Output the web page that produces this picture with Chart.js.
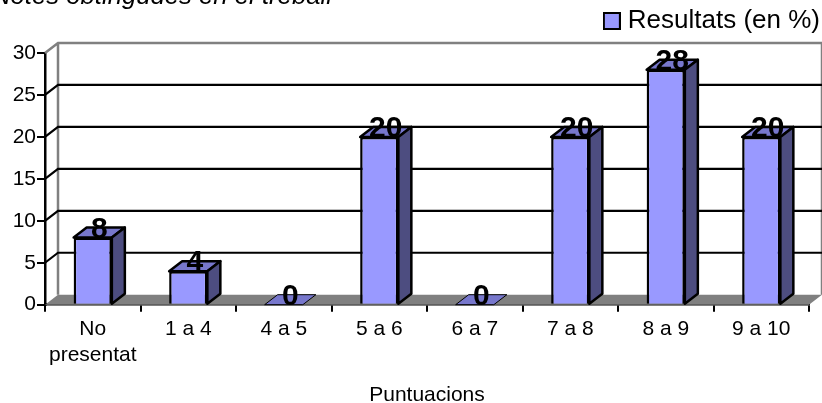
<!DOCTYPE html>
<html><head><meta charset="utf-8">
<style>html,body{margin:0;padding:0;background:#fff;overflow:hidden}canvas{display:block}</style>
<script src="https://cdn.jsdelivr.net/npm/chart.js@4"></script></head>
<body><canvas id="c" width="822" height="403"></canvas>
<script>
const categories = [['No','presentat'],'1 a 4','4 a 5','5 a 6','6 a 7','7 a 8','8 a 9','9 a 10'];
const results = [8,4,0,20,0,20,28,20];
const yTicks = [0,5,10,15,20,25,30];
const seriesName = 'Resultats (en %)';
const chartTitle = 'Notes obtingudes en el treball';
const xTitle = 'Puntuacions';
const DX = 13, DY = 10;
const FONT = '"Liberation Sans", Arial, sans-serif';

// legend swatch
const swatch = document.createElement('canvas');
swatch.width = 18; swatch.height = 18;
(function(){
  const s = swatch.getContext('2d');
  s.fillStyle = '#9999FF'; s.fillRect(0,0,18,18);
  s.strokeStyle = '#000'; s.lineWidth = 2; s.strokeRect(1,1,16,16);
})();

const scene = {
  id:'scene',
  afterLayout(chart){
    const l = chart.legend;
    l.top = -2; l.right = 830; l.left = 560;
  },
  beforeDatasetsDraw(chart){
    const {ctx, chartArea:a, scales:{y}} = chart;
    ctx.save();
    ctx.fillStyle = '#808080';
    ctx.beginPath();
    ctx.moveTo(a.left, a.bottom); ctx.lineTo(a.left+DX, a.bottom-DY);
    ctx.lineTo(a.right+DX, a.bottom-DY); ctx.lineTo(a.right, a.bottom);
    ctx.closePath(); ctx.fill();
    ctx.strokeStyle = '#808080'; ctx.lineWidth = 2.5;
    ctx.beginPath();
    ctx.moveTo(a.left, a.top); ctx.lineTo(a.left+DX, a.top-DY);
    ctx.lineTo(a.right+DX, a.top-DY); ctx.lineTo(a.right+DX, a.bottom-DY);
    ctx.moveTo(a.left+DX, a.top-DY); ctx.lineTo(a.left+DX, a.bottom-DY);
    ctx.stroke();
    ctx.strokeStyle = '#000'; ctx.lineWidth = 2.2;
    ctx.beginPath();
    yTicks.forEach(v=>{
      if(v===0||v===30) return;
      const py = y.getPixelForValue(v);
      ctx.moveTo(a.left, py); ctx.lineTo(a.left+DX, py-DY); ctx.lineTo(a.right+DX, py-DY);
    });
    ctx.stroke();
    ctx.restore();
  },
  afterDatasetsDraw(chart){
    const {ctx} = chart;
    const meta = chart.getDatasetMeta(0);
    ctx.save();
    ctx.strokeStyle = '#000'; ctx.lineJoin = 'round';
    meta.data.forEach((b,i)=>{
      const hw = b.width/2, l = b.x-hw, r = b.x+hw, t = b.y, bot = b.base;
      ctx.lineWidth = results[i]>0 ? 2.5 : 1;
      ctx.fillStyle = '#7777CC';
      ctx.beginPath();
      ctx.moveTo(l,t); ctx.lineTo(l+DX,t-DY); ctx.lineTo(r+DX,t-DY); ctx.lineTo(r,t); ctx.closePath();
      ctx.fill(); ctx.stroke();
      if(results[i]>0){
        ctx.fillStyle = '#4D4D80';
        ctx.beginPath();
        ctx.moveTo(r,t); ctx.lineTo(r+DX,t-DY); ctx.lineTo(r+DX,bot-DY); ctx.lineTo(r,bot); ctx.closePath();
        ctx.fill(); ctx.stroke();
      }
    });
    ctx.fillStyle = '#000';
    ctx.font = 'bold 30px '+FONT;
    ctx.textAlign = 'center'; ctx.textBaseline = 'alphabetic';
    meta.data.forEach((b,i)=> ctx.fillText(String(results[i]), b.x+6.5, b.y));
    ctx.font = 'italic 25.7px '+FONT;
    ctx.textAlign = 'left';
    ctx.fillText(chartTitle, -8, 4);
    ctx.restore();
  }
};

new Chart(document.getElementById('c'),{
  type:'bar',
  data:{labels:categories,datasets:[{
    label:seriesName,data:results,backgroundColor:'#9999FF',borderColor:'#000',borderWidth:2.5,
    barPercentage:0.4,categoryPercentage:1
  }]},
  plugins:[scene],
  options:{
    responsive:false,animation:false,
    layout:{padding:{top:7,right:13,left:0,bottom:0}},
    plugins:{
      legend:{display:true,position:'top',align:'end',
        labels:{font:{size:26,family:FONT},color:'#000',boxWidth:6,padding:10,usePointStyle:true,pointStyle:swatch}},
      tooltip:{enabled:false},title:{display:false}
    },
    scales:{
      x:{
        grid:{drawOnChartArea:false,drawTicks:true,tickLength:7,color:'#000',lineWidth:2},
        border:{color:'#000',width:2.5},
        ticks:{color:'#000',font:{size:21,family:FONT,lineHeight:1.25},maxRotation:0,autoSkip:false,padding:4},
        title:{display:true,text:xTitle,color:'#000',font:{size:21,family:FONT},padding:{top:14,bottom:-4.5}},
        afterFit(s){s.height=98.3;}
      },
      y:{
        min:0,max:30,
        afterBuildTicks(s){s.ticks=yTicks.map(v=>({value:v}));},
        grid:{drawOnChartArea:false,drawTicks:true,tickLength:8,color:'#000',lineWidth:2},
        border:{color:'#000',width:2.5},
        ticks:{color:'#000',font:{size:21,family:FONT},padding:1},
        afterFit(s){s.width=45;}
      }
    }
  }
});
</script></body></html>
